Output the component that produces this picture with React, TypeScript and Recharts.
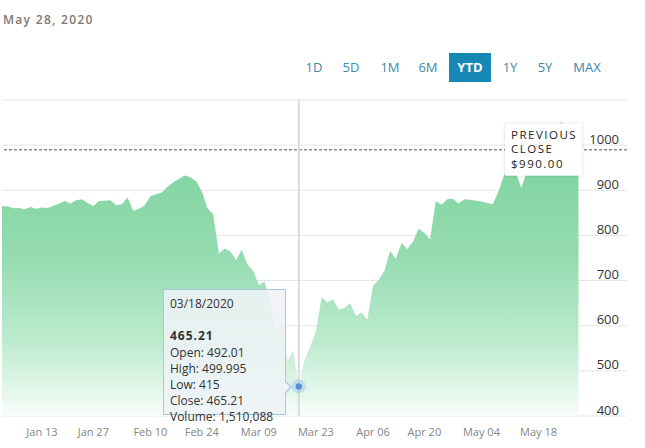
import React from 'react';
import { AreaChart, Area, XAxis, YAxis, CartesianGrid, Tooltip, ReferenceLine } from 'recharts';

const FONT = '"Open Sans", "Noto Sans", sans-serif';

// trading days, Jan 2 - May 28 2020
const dates = [
  '01/02', '01/03', '01/06', '01/07', '01/08', '01/09', '01/10', '01/13', '01/14', '01/15', '01/16',
  '01/17', '01/21', '01/22', '01/23', '01/24', '01/27', '01/28', '01/29', '01/30', '01/31',
  '02/03', '02/04', '02/05', '02/06', '02/07', '02/10', '02/11', '02/12', '02/13', '02/14',
  '02/18', '02/19', '02/20', '02/21', '02/24', '02/25', '02/26', '02/27', '02/28',
  '03/02', '03/03', '03/04', '03/05', '03/06', '03/09', '03/10', '03/11', '03/12', '03/13', '03/16',
  '03/17', '03/18', '03/19', '03/20', '03/23', '03/24', '03/25', '03/26', '03/27', '03/30', '03/31',
  '04/01', '04/02', '04/03', '04/06', '04/07', '04/08', '04/09', '04/13', '04/14', '04/15', '04/16',
  '04/17', '04/20', '04/21', '04/22', '04/23', '04/24', '04/27', '04/28', '04/29', '04/30',
  '05/01', '05/04', '05/05', '05/06', '05/07', '05/08', '05/11', '05/12', '05/13', '05/14', '05/15',
  '05/18', '05/19', '05/20', '05/21', '05/22', '05/26', '05/27', '05/28',
];

const closes = [
  865, 864, 860, 861, 858, 863, 859, 862, 861, 866, 870,
  876, 871, 878, 880, 872, 865, 876, 877, 878, 867,
  869, 884, 854, 859, 867, 887, 891, 895, 908, 918,
  925, 933, 929, 920, 898, 860, 847, 760, 771,
  765, 745, 768, 736, 722, 690, 698, 650, 585, 612, 520,
  545, 465.21, 524, 554, 588, 663, 652, 658, 636, 639, 650,
  622, 630, 613, 688, 702, 722, 766, 748, 783, 770, 786,
  815, 806, 791, 876, 868, 880, 881, 871, 880, 879,
  877, 875, 872, 869, 898, 935, 945, 940, 905, 945, 960,
  975, 995, 1005, 1020, 1052, 1025, 990, 1000,
];

const tickIdx = [7, 16, 26, 35, 45, 55, 65, 74, 84, 94];
const tickLabels = ['Jan 13', 'Jan 27', 'Feb 10', 'Feb 24', 'Mar 09', 'Mar 23', 'Apr 06', 'Apr 20', 'May 04', 'May 18'];
const yTicks = [400, 500, 600, 700, 800, 900, 1000, 1100];

const ranges = ['1D', '5D', '1M', '6M', 'YTD', '1Y', '5Y', 'MAX'];
const rangeX = [314, 351, 390, 428, 470, 510, 545, 587];
const selectedRange = 'YTD';

const prevClose = 990;
const activeIdx = 52;
const dayStats = [
  ['Open', '492.01'],
  ['High', '499.995'],
  ['Low', '415'],
  ['Close', '465.21'],
  ['Volume', '1,510,088'],
];

const data = dates.map((d, i) => ({ i, date: d, close: closes[i] }));

const XTick = ({ x, y, payload }: any) => {
  const k = tickIdx.indexOf(payload.value);
  return (
    <text x={x} y={y + 8} dy="0.35em" textAnchor="middle" fill="#858585" fontSize={11} fontFamily={FONT}>
      {tickLabels[k]}
    </text>
  );
};

const YTick = ({ x, y, payload }: any) => {
  if (payload.value === 1100) return <g />;
  return (
    <text x={x} y={y - 6} dy="0.35em" textAnchor="end" fill="#333" fontSize={13} fontFamily={FONT}>
      {payload.value}
    </text>
  );
};

const PrevCloseLabel = ({ viewBox }: any) => {
  const bx = viewBox.x + viewBox.width - 122;
  const by = viewBox.y - 26;
  return (
    <g>
      <rect x={bx} y={by} width={77} height={52} fill="#fff" filter="url(#shadow)" />
      {['PREVIOUS', 'CLOSE', `$${prevClose.toFixed(2)}`].map((t, k) => (
        <text key={k} x={bx + 6} y={by + 11 + k * 14.6} dy="0.35em" fill="#222" fontSize={11.5}
          fontFamily={FONT} letterSpacing={1.5}>
          {t}
        </text>
      ))}
    </g>
  );
};

const ActiveDot = ({ cx, cy }: any) => (
  <g>
    <circle cx={cx} cy={cy} r={7} fill="rgba(110,160,225,0.28)" />
    <circle cx={cx} cy={cy} r={3.2} fill="#5b8fd9" />
  </g>
);

const TipBox = ({ payload }: any) => {
  const row = payload && payload[0] ? payload[0].payload : data[activeIdx];
  return (
    <div style={{
      position: 'relative', width: 123, height: 126, boxSizing: 'border-box',
      background: 'rgba(238,243,246,0.88)', border: '1px solid #a9c8df',
      padding: '6px 0 0 6px', fontFamily: FONT, fontSize: 12, lineHeight: '16.2px', color: '#333',
      whiteSpace: 'nowrap',
    }}>
      <div>{row.date}/2020</div>
      <div>&nbsp;</div>
      <div style={{ fontWeight: 700, letterSpacing: 1 }}>{row.close.toFixed(2)}</div>
      {dayStats.map(([k, v]) => (
        <div key={k}>{k}: {v}</div>
      ))}
      <div style={{
        position: 'absolute', left: 122, top: 91, width: 0, height: 0,
        borderTop: '6px solid transparent', borderBottom: '6px solid transparent',
        borderLeft: '6px solid #a9c8df',
      }} />
      <div style={{
        position: 'absolute', left: 121, top: 92, width: 0, height: 0,
        borderTop: '5px solid transparent', borderBottom: '5px solid transparent',
        borderLeft: '5px solid #f3f6f8',
      }} />
    </div>
  );
};

export default function App() {
  return (
    <div style={{ position: 'absolute', left: 0, top: 0, width: 645, height: 448, background: '#fff', fontFamily: FONT }}>
      <div style={{ position: 'absolute', left: 3, top: 11, fontSize: 12, lineHeight: '18px', color: '#7d7872', letterSpacing: 1.3, fontWeight: 600 }}>
        May 28, 2020
      </div>
      {ranges.map((r, k) => (
        <div key={r} style={{
          position: 'absolute', left: rangeX[k] - 21, top: 53, width: 42, height: 29,
          lineHeight: '29px', textAlign: 'center', fontSize: 13,
          color: r === selectedRange ? '#fff' : '#3f87a8',
          background: r === selectedRange ? '#1688b6' : 'transparent',
          fontWeight: r === selectedRange ? 700 : 400,
        }}>
          {r}
        </div>
      ))}
      <div style={{ position: 'absolute', left: 0, top: 0 }}>
        <AreaChart width={645} height={448} data={data} margin={{ top: 100, right: 18, bottom: 2, left: 2 }}>
          <defs>
            <linearGradient id="fillG" x1="0" y1="0" x2="0" y2="1">
              <stop offset="0%" stopColor="#79d19b" />
              <stop offset="45%" stopColor="#94dbaf" />
              <stop offset="75%" stopColor="#bdebcf" />
              <stop offset="100%" stopColor="#f7fdf9" />
            </linearGradient>
            <filter id="shadow" x="-20%" y="-20%" width="140%" height="140%">
              <feDropShadow dx="0" dy="0" stdDeviation="1.5" floodColor="#000" floodOpacity="0.18" />
            </filter>
          </defs>
          <CartesianGrid vertical={false} stroke="#e4e4e4" />
          <XAxis type="number" dataKey="i" domain={[0, 109.5]} ticks={tickIdx} allowDataOverflow
            axisLine={false} tickLine={false} height={30} tick={<XTick />} />
          <YAxis orientation="right" mirror domain={[400, 1100]} ticks={yTicks} allowDataOverflow
            axisLine={false} tickLine={false} tick={<YTick />} />
          <Area type="linear" dataKey="close" stroke="none" fill="url(#fillG)" fillOpacity={1}
            dot={false} activeDot={<ActiveDot />} isAnimationActive={false} />
          <ReferenceLine y={prevClose} stroke="#8c8c8c" strokeWidth={1.5} strokeDasharray="3 2"
            label={<PrevCloseLabel />} />
          <Tooltip active defaultIndex={activeIdx} position={{ x: 163, y: 289 }}
            cursor={{ stroke: '#dadada', strokeWidth: 2 }} content={<TipBox />}
            isAnimationActive={false} wrapperStyle={{ outline: 'none' }} />
        </AreaChart>
      </div>
    </div>
  );
}
